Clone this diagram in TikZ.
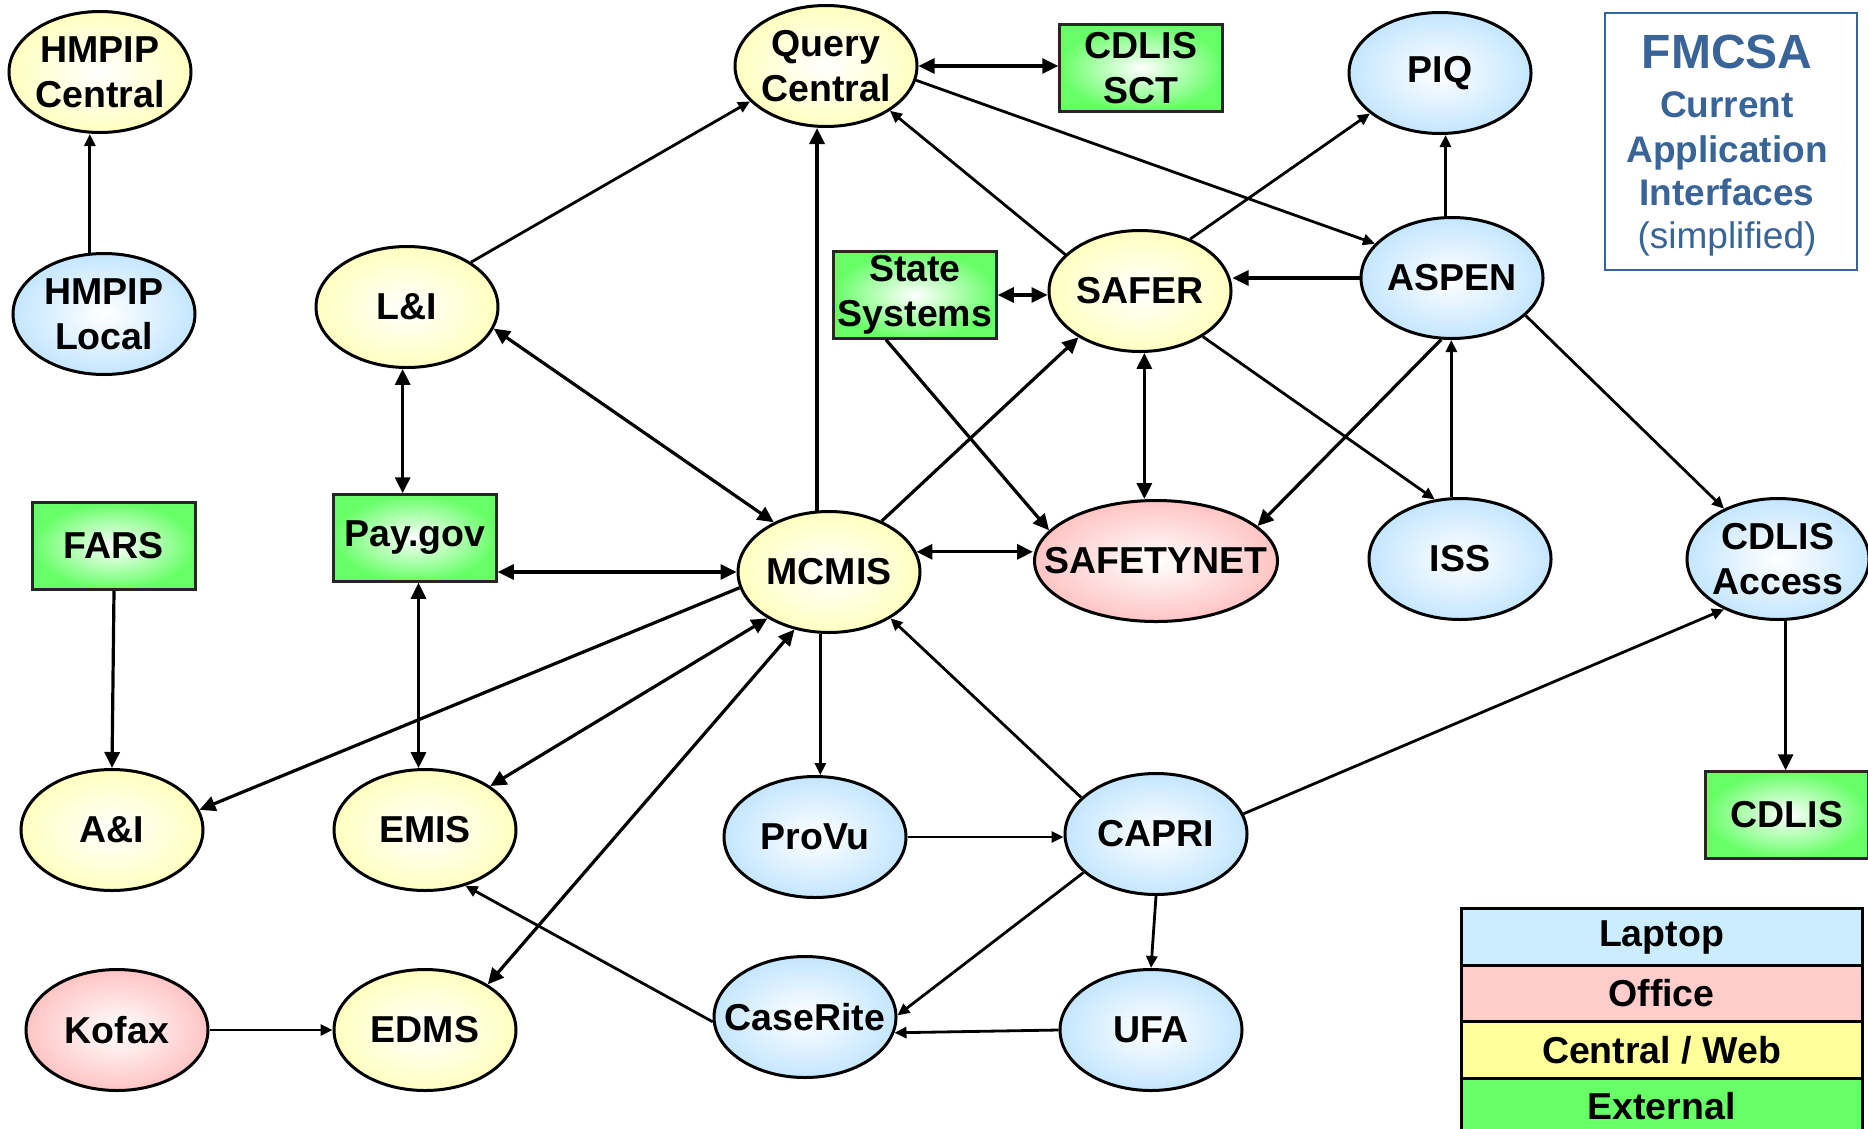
\documentclass[tikz,border=0pt]{standalone}
\usepackage{fontspec}
\setmainfont{Liberation Sans}
\usetikzlibrary{arrows.meta,shapes.geometric}
\definecolor{yel}{RGB}{255,255,192}
\definecolor{blu}{RGB}{196,230,255}
\definecolor{pnk}{RGB}{255,196,196}
\definecolor{grn}{RGB}{102,255,102}
\definecolor{fmblue}{RGB}{56,100,152}
\definecolor{lgblue}{RGB}{204,236,255}
\definecolor{lgpink}{RGB}{255,204,204}
\definecolor{lgyel}{RGB}{255,255,153}
\definecolor{lggrn}{RGB}{102,255,102}
\tikzset{
 txt/.style={font=\fontsize{37.5}{45}\selectfont\bfseries, align=center, text=black},
 ell/.style={txt, ellipse, draw=black, line width=3pt, minimum width=182pt, minimum height=121pt, inner xsep=-40pt, inner ysep=0pt, inner color=white},
 ycen/.style={ell, outer color=yel},
 blap/.style={ell, outer color=blu},
 poff/.style={ell, outer color=pnk},
 gext/.style={txt, rectangle, draw=black!85, line width=2.5pt, minimum width=163pt, minimum height=87pt, inner sep=0pt, inner color=white, outer color=grn},
 big/.style={line width=3.2pt, -{Triangle[length=16pt,width=15pt]}},
 bigd/.style={line width=3.2pt, {Triangle[length=16pt,width=15pt]}-{Triangle[length=16pt,width=15pt]}},
 sml/.style={line width=2.8pt, -{Triangle[length=12pt,width=11pt]}},
 lg/.style={txt, rectangle, draw=black, line width=3pt, minimum width=401pt, minimum height=56.5pt, inner sep=0pt},
 fmt/.style={anchor=base, text=fmblue, font=\fontsize{37}{40}\selectfont\bfseries},
}
\begin{document}
\begin{tikzpicture}[x=1pt,y=-1pt]
\useasboundingbox (0,0) rectangle (1868,1128);
% nodes
\node[ycen] (HC) at (100,72) {HMPIP\\Central};
\node[blap] (HL) at (104,314) {HMPIP\\Local};
\node[ycen] (LI) at (407,307) {L\&I};
\node[ycen] (QC) at (826,66) {Query\\Central};
\node[gext] (SCT) at (1141,68) {CDLIS\\SCT};
\node[blap] (PIQ) at (1440,73) {PIQ};
\node[gext] (SS) at (915,295) {State\\Systems};
\node[ycen] (SAFER) at (1140,291) {SAFER};
\node[blap] (ASPEN) at (1452,278) {ASPEN};
\node[gext] (FARS) at (114,546) {FARS};
\node[gext] (PAY) at (415,538) {Pay.gov};
\node[ycen] (MCMIS) at (829,572) {MCMIS};
\node[poff, minimum width=243pt] (SN) at (1156,561) {SAFETYNET};
\node[blap] (ISS) at (1460,559) {ISS};
\node[blap] (CA) at (1778,559) {CDLIS\\Access};
\node[ycen] (AI) at (112,830) {A\&I};
\node[ycen] (EMIS) at (425,830) {EMIS};
\node[blap] (PROVU) at (815,837) {ProVu};
\node[blap] (CAPRI) at (1156,834) {CAPRI};
\node[gext] (CDLIS) at (1787,815) {CDLIS};
\node[poff] (KOFAX) at (117,1030) {Kofax};
\node[ycen] (EDMS) at (425,1030) {EDMS};
\node[blap] (CR) at (805,1017) {CaseRite};
\node[blap] (UFA) at (1151,1030) {UFA};
% title box
\node[draw=fmblue, line width=2.5pt, minimum width=252pt, minimum height=257pt] (FM) at (1731,141.5) {};
\node[fmt, font=\fontsize{48}{50}\selectfont\bfseries] (FM1) at (1727,68) {FMCSA};
\node[fmt] (FM2) at (1727,117) {Current};
\node[fmt] (FM3) at (1727,162) {Application};
\node[fmt] (FM4) at (1727,205) {Interfaces};
\node[fmt, font=\fontsize{37}{40}\selectfont] (FM5) at (1727,248) {(simplified)};
% legend
\node[lg, fill=lgblue] (L1) at (1661.5,937) {Laptop};
\node[lg, fill=lgpink] (L2) at (1661.5,993.5) {Office};
\node[lg, fill=lgyel] (L3) at (1661.5,1050) {Central / Web};
\node[lg, fill=lggrn] (L4) at (1661.5,1106.5) {External};
% connectors
\draw[sml] (HL.103) -- (HL.103 |- HC.south);
\draw[sml] (LI.35) -- (QC.205);
\draw[bigd] (LI.266) -- (LI.266 |- PAY.north);
\draw[bigd] (LI.346) -- (MCMIS.138);
\draw[big] (MCMIS.101) -- (MCMIS.101 |- QC.south);
\draw[bigd] (QC.east) -- (QC.east -| SCT.west);
\draw[sml] (SAFER.154) -- (QC.325);
\draw[sml] (QC.351) -- (ASPEN.156);
\draw[bigd] (SS.east) -- (SS.east -| SAFER.west);
\draw[sml] (SAFER.46) -- (PIQ.210);
\draw[sml] (ASPEN.96) -- (ASPEN.96 |- PIQ.south);
\draw[big] (ASPEN.west) -- (ASPEN.west -| SAFER.east);
\draw[big] (MCMIS.44) -- (SAFER.217);
\draw[big] (SS.237) -- (SN.164);
\draw[bigd] (SAFER.274) -- (SAFER.274 |- SN.north);
\draw[sml] (SAFER.324) -- (ISS.113);
\draw[big] (ASPEN.260) -- (SN.19);
\draw[sml] (ISS.98) -- (ISS.98 |- ASPEN.south);
\draw[sml] (ASPEN.333) -- (CA.137);
\draw[bigd] (MCMIS.west -| PAY.east) -- (MCMIS.west);
\draw[bigd] (MCMIS.13) -- (MCMIS.13 -| SN.west);
\draw[big] (FARS.south) -- (AI.north);
\draw[bigd] (EMIS.96 |- PAY.south) -- (EMIS.96);
\draw[big] (MCMIS.190) -- (AI.13);
\draw[bigd] (MCMIS.217) -- (EMIS.34);
\draw[bigd] (MCMIS.239) -- (EDMS.36);
\draw[sml] (MCMIS.262) -- (MCMIS.262 |- PROVU.north);
\draw[sml] (CAPRI.154) -- (MCMIS.323);
\draw[sml] (PROVU.east) -- (PROVU.east -| CAPRI.west);
\draw[sml] (CAPRI.13) -- (CA.223);
\draw[big] (CA.277) -- (CA.277 |- CDLIS.north);
\draw[sml] (CR.183) -- (EMIS.306);
\draw[sml] (CAPRI.208) -- (CR.1);
\draw[sml] (CAPRI.south) -- (UFA.north);
\draw[sml] (UFA.west) -- (CR.350);
\draw[sml] (KOFAX.east) -- (EDMS.west);
\end{tikzpicture}
\end{document}
